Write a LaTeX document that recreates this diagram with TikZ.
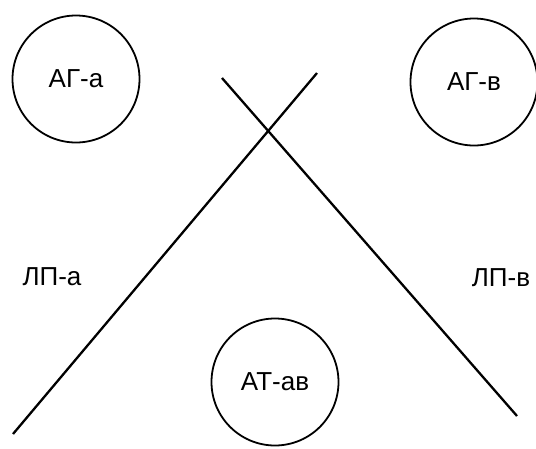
\documentclass[tikz,border=0pt]{standalone}
\usepackage{fontspec}
\setmainfont{Liberation Sans}
\usepackage{tikz}

\begin{document}
\begin{tikzpicture}[x=1pt, y=-1pt,
        krug/.style={circle, draw, line width=1.8pt, minimum size=127pt, font=\fontsize{26}{30}\selectfont},
        metka/.style={font=\fontsize{26}{30}\selectfont}]
            \useasboundingbox (0,0) rectangle (536,448);
            \node[krug] (aga) at (76,79) {АГ-а};
            \node[krug] (agv) at (474,82) {АГ-в};
            \node[krug] (atav) at (275,382) {АТ-ав};
            \node[metka] (lpa) at (52,277) {ЛП-а};
            \node[metka] (lpv) at (501,278) {ЛП-в};
            \coordinate (a1) at (13,434);
            \coordinate (a2) at (317,73);
            \coordinate (b1) at (222,78);
            \coordinate (b2) at (517,416);
            \draw[line width=2.3pt] (a1) -- (a2);
            \draw[line width=2.3pt] (b1) -- (b2);
        \end{tikzpicture}
\end{document}
